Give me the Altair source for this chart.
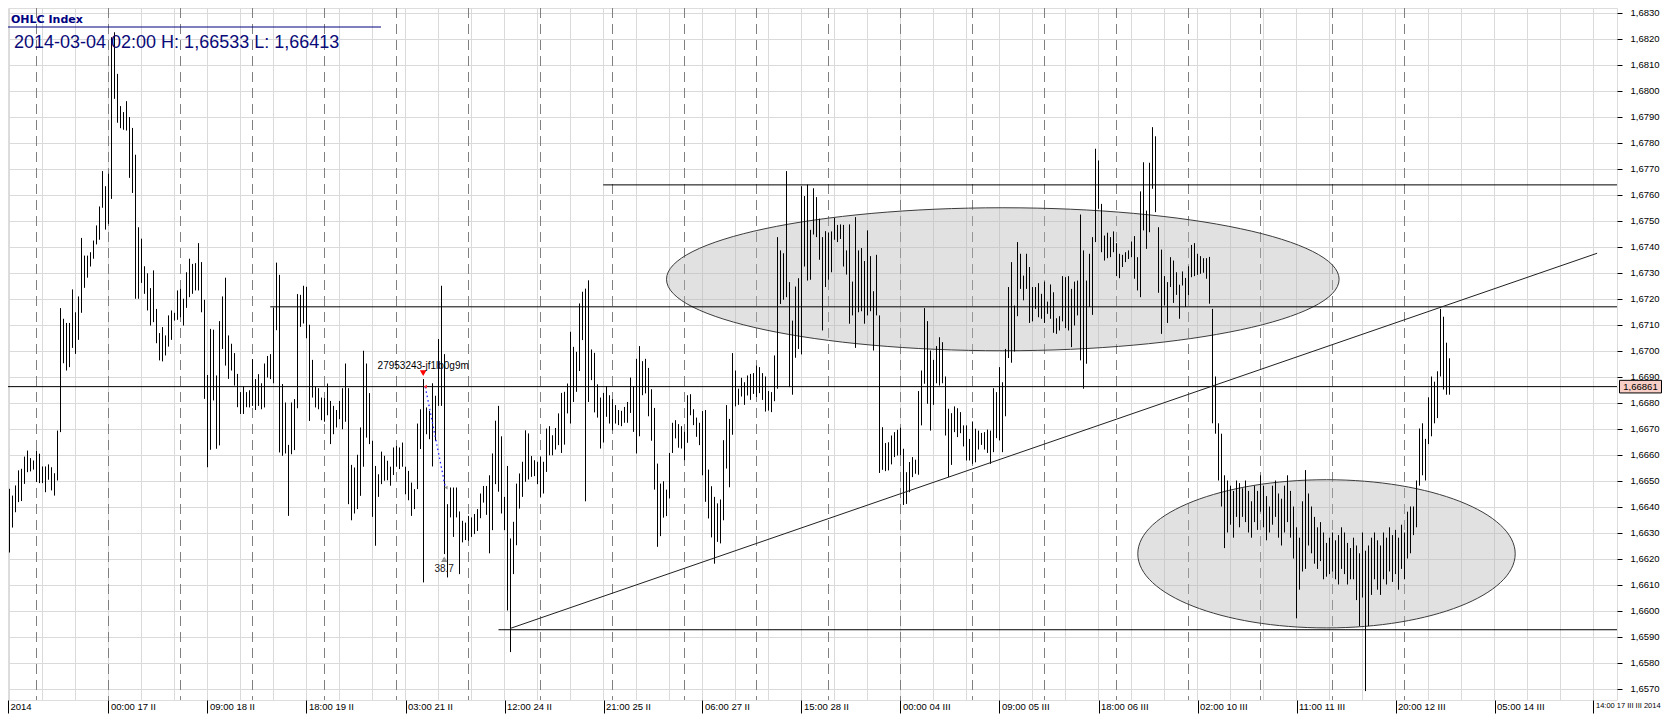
import json
import altair as alt
import pandas as pd

# ---------------- data ----------------
highs = [
    1.66468, 1.66442, 1.66481, 1.66539, 1.66545, 1.66592, 1.66615, 1.66586, 1.66577, 1.66615,
    1.66603, 1.66554, 1.66554, 1.66562, 1.66551, 1.66528, 1.66692, 1.67163, 1.67122, 1.67106,
    1.67106, 1.67235, 1.67147, 1.67208, 1.67433, 1.67365, 1.67365, 1.67378, 1.67423, 1.67481,
    1.67554, 1.67690, 1.67632, 1.67680, 1.68205, 1.68224, 1.68064, 1.67940, 1.67917, 1.67959,
    1.67898, 1.67856, 1.67753, 1.67474, 1.67430, 1.67324, 1.67297, 1.67240, 1.67308, 1.67160,
    1.67067, 1.67090, 1.67058, 1.67135, 1.67154, 1.67145, 1.67231, 1.67237, 1.67199, 1.67301,
    1.67353, 1.67333, 1.67336, 1.67413, 1.67340, 1.67195, 1.66906, 1.67083, 1.67080, 1.66904,
    1.67113, 1.67208, 1.67280, 1.67058, 1.67026, 1.66990, 1.66910, 1.66840, 1.66862, 1.66840,
    1.66847, 1.66967, 1.66890, 1.66909, 1.66874, 1.66950, 1.66979, 1.66986, 1.67165, 1.67338,
    1.67291, 1.66871, 1.66800, 1.66637, 1.66800, 1.66813, 1.67217, 1.67214, 1.67249, 1.67245,
    1.67099, 1.66964, 1.66860, 1.66855, 1.66819, 1.66817, 1.66873, 1.66806, 1.66787, 1.66771,
    1.66806, 1.66855, 1.66950, 1.66855, 1.66560, 1.66550, 1.66599, 1.66704, 1.66999, 1.66950,
    1.66836, 1.66653, 1.66556, 1.66524, 1.66611, 1.66595, 1.66576, 1.66553, 1.66627, 1.66633,
    1.66627, 1.66646, 1.66553, 1.66537, 1.66492, 1.66467, 1.66719, 1.66774, 1.66890, 1.66781,
    1.66768, 1.66874, 1.66826, 1.67044, 1.67249, 1.66986, 1.66409, 1.66473, 1.66473, 1.66473,
    1.66381, 1.66345, 1.66338, 1.66364, 1.66358, 1.66371, 1.66390, 1.66450, 1.66479, 1.66479,
    1.66520, 1.66604, 1.66730, 1.66787, 1.66670, 1.66437, 1.66556, 1.66277, 1.66341, 1.66488,
    1.66527, 1.66572, 1.66693, 1.66681, 1.66594, 1.66578, 1.66572, 1.66591, 1.66572, 1.66700,
    1.66709, 1.66674, 1.66702, 1.66758, 1.66837, 1.66841, 1.66873, 1.67072, 1.67014, 1.66995,
    1.67181, 1.67226, 1.67238, 1.67270, 1.67004, 1.66991, 1.66870, 1.66819, 1.66837, 1.66863,
    1.66828, 1.66813, 1.66790, 1.66771, 1.66768, 1.66783, 1.66802, 1.66896, 1.66863, 1.66968,
    1.67017, 1.66959, 1.66968, 1.66933, 1.66851, 1.66779, 1.66565, 1.66488, 1.66497, 1.66465,
    1.66606, 1.66722, 1.66732, 1.66717, 1.66709, 1.66687, 1.66828, 1.66832, 1.66774, 1.66742,
    1.66722, 1.66767, 1.66771, 1.66542, 1.66478, 1.66437, 1.66412, 1.66427, 1.66655, 1.66790,
    1.66737, 1.66990, 1.66923, 1.66853, 1.66895, 1.66878, 1.66904, 1.66910, 1.66913, 1.66942,
    1.66936, 1.66913, 1.66900, 1.66844, 1.66840, 1.66981, 1.67436, 1.67385, 1.67374, 1.67690,
    1.67263, 1.67115, 1.67246, 1.67278, 1.67632, 1.67594, 1.67638, 1.67464, 1.67624, 1.67590,
    1.67507, 1.67436, 1.67459, 1.67453, 1.67458, 1.67510, 1.67483, 1.67485, 1.67483, 1.67385,
    1.67485, 1.67265, 1.67513, 1.67385, 1.67394, 1.67344, 1.67462, 1.67363, 1.67228, 1.67368,
    1.67135, 1.66705, 1.66644, 1.66647, 1.66673, 1.66686, 1.66695, 1.66703, 1.66622, 1.66532,
    1.66571, 1.66590, 1.66580, 1.66844, 1.66923, 1.67163, 1.67113, 1.67000, 1.66964, 1.67017,
    1.67051, 1.67032, 1.66900, 1.66776, 1.66759, 1.66785, 1.66778, 1.66763, 1.66712, 1.66712,
    1.66660, 1.66727, 1.66699, 1.66692, 1.66683, 1.66686, 1.66696, 1.66692, 1.66855, 1.66840,
    1.66936, 1.66878, 1.67006, 1.67244, 1.67340, 1.67173, 1.67417, 1.67372, 1.67288, 1.67372,
    1.67321, 1.67244, 1.67244, 1.67259, 1.67218, 1.67265, 1.67188, 1.67254, 1.67224, 1.67124,
    1.67132, 1.67286, 1.67282, 1.67286, 1.67237, 1.67265, 1.67269, 1.67523, 1.67385, 1.67269,
    1.67372, 1.67436, 1.67776, 1.67731, 1.67564, 1.67442, 1.67453, 1.67436, 1.67458, 1.67413,
    1.67372, 1.67368, 1.67378, 1.67385, 1.67419, 1.67440, 1.67359, 1.67612, 1.67724, 1.67538,
    1.67722, 1.67859, 1.67824, 1.67474, 1.67388, 1.67286, 1.67263, 1.67359, 1.67346, 1.67301,
    1.67253, 1.67304, 1.67279, 1.67324, 1.67406, 1.67413, 1.67372, 1.67363, 1.67355, 1.67355,
    1.67360, 1.67160, 1.66900, 1.66720, 1.66680, 1.66520, 1.66500, 1.66480, 1.66460, 1.66500,
    1.66490, 1.66470, 1.66500, 1.66460, 1.66420, 1.66480, 1.66460, 1.66520, 1.66480, 1.66440,
    1.66400, 1.66480, 1.66500, 1.66450, 1.66430, 1.66480, 1.66520, 1.66460, 1.66400, 1.66320,
    1.66280, 1.66420, 1.66540, 1.66450, 1.66400, 1.66360, 1.66320, 1.66340, 1.66300, 1.66260,
    1.66280, 1.66300, 1.66270, 1.66290, 1.66320, 1.66300, 1.66260, 1.66240, 1.66280, 1.66250,
    1.66220, 1.66300, 1.66230, 1.66250, 1.66280, 1.66300, 1.66270, 1.66250, 1.66300, 1.66280,
    1.66320, 1.66290, 1.66310, 1.66280, 1.66330, 1.66300, 1.66380, 1.66400, 1.66400, 1.66500,
    1.66700, 1.66720, 1.66660, 1.66820, 1.66900, 1.66880, 1.66920, 1.67160, 1.67130, 1.67030,
    1.66970,
]
lows = [
    1.66223, 1.66319, 1.66378, 1.66417, 1.66421, 1.66487, 1.66532, 1.66535, 1.66542, 1.66494,
    1.66490, 1.66490, 1.66455, 1.66503, 1.66462, 1.66442, 1.66500, 1.66686, 1.66951, 1.66923,
    1.66936, 1.67010, 1.66987, 1.67041, 1.67145, 1.67241, 1.67280, 1.67323, 1.67353, 1.67408,
    1.67426, 1.67549, 1.67465, 1.67487, 1.67583, 1.67968, 1.67876, 1.67855, 1.67849, 1.67846,
    1.67664, 1.67606, 1.67199, 1.67199, 1.67260, 1.67218, 1.67154, 1.67096, 1.67109, 1.67028,
    1.66962, 1.66958, 1.66981, 1.67015, 1.67041, 1.67115, 1.67118, 1.67128, 1.67096, 1.67164,
    1.67205, 1.67218, 1.67231, 1.67231, 1.67147, 1.66814, 1.66551, 1.66618, 1.66808, 1.66622,
    1.66635, 1.67006, 1.66942, 1.66891, 1.66923, 1.66865, 1.66782, 1.66756, 1.66756, 1.66782,
    1.66781, 1.66787, 1.66771, 1.66787, 1.66774, 1.66781, 1.66896, 1.66890, 1.66874, 1.67078,
    1.66608, 1.66595, 1.66604, 1.66364, 1.66601, 1.66617, 1.66778, 1.67091, 1.67104, 1.67047,
    1.66729, 1.66819, 1.66781, 1.66774, 1.66732, 1.66726, 1.66751, 1.66640, 1.66678, 1.66704,
    1.66736, 1.66697, 1.66726, 1.66409, 1.66347, 1.66373, 1.66390, 1.66441, 1.66553, 1.66665,
    1.66640, 1.66360, 1.66249, 1.66437, 1.66486, 1.66499, 1.66501, 1.66480, 1.66521, 1.66553,
    1.66544, 1.66553, 1.66447, 1.66424, 1.66364, 1.66390, 1.66467, 1.66621, 1.66108, 1.66678,
    1.66659, 1.66554, 1.66653, 1.66787, 1.66787, 1.66217, 1.66127, 1.66358, 1.66283, 1.66358,
    1.66140, 1.66262, 1.66271, 1.66268, 1.66283, 1.66294, 1.66306, 1.66355, 1.66415, 1.66368,
    1.66220, 1.66309, 1.66486, 1.66457, 1.66373, 1.66309, 1.66000, 1.65840, 1.66140, 1.66251,
    1.66392, 1.66437, 1.66495, 1.66504, 1.66514, 1.66517, 1.66486, 1.66437, 1.66450, 1.66533,
    1.66597, 1.66597, 1.66619, 1.66636, 1.66606, 1.66638, 1.66758, 1.66719, 1.66802, 1.66841,
    1.66921, 1.67040, 1.66420, 1.66802, 1.66886, 1.66762, 1.66742, 1.66623, 1.66646, 1.66745,
    1.66719, 1.66693, 1.66719, 1.66713, 1.66709, 1.66722, 1.66722, 1.66760, 1.66687, 1.66604,
    1.66670, 1.66828, 1.66835, 1.66747, 1.66653, 1.66465, 1.66245, 1.66286, 1.66357, 1.66363,
    1.66431, 1.66606, 1.66662, 1.66626, 1.66623, 1.66578, 1.66645, 1.66751, 1.66713, 1.66668,
    1.66636, 1.66520, 1.66418, 1.66354, 1.66281, 1.66180, 1.66264, 1.66258, 1.66347, 1.66546,
    1.66474, 1.66676, 1.66785, 1.66791, 1.66823, 1.66791, 1.66827, 1.66810, 1.66833, 1.66821,
    1.66836, 1.66810, 1.66765, 1.66769, 1.66763, 1.66805, 1.66853, 1.67179, 1.67195, 1.67205,
    1.66859, 1.66830, 1.66972, 1.67006, 1.66985, 1.67323, 1.67269, 1.67272, 1.67446, 1.67436,
    1.67349, 1.67077, 1.67244, 1.67272, 1.67301, 1.67426, 1.67417, 1.67429, 1.67323, 1.67292,
    1.67103, 1.67135, 1.67010, 1.67147, 1.67151, 1.67103, 1.67135, 1.67151, 1.67000, 1.67135,
    1.66529, 1.66541, 1.66536, 1.66539, 1.66562, 1.66590, 1.66596, 1.66596, 1.66406, 1.66410,
    1.66455, 1.66513, 1.66526, 1.66522, 1.66712, 1.66872, 1.66795, 1.66692, 1.66791, 1.66874,
    1.66865, 1.66874, 1.66673, 1.66513, 1.66560, 1.66686, 1.66667, 1.66682, 1.66631, 1.66577,
    1.66577, 1.66564, 1.66570, 1.66619, 1.66637, 1.66619, 1.66606, 1.66564, 1.66609, 1.66663,
    1.66654, 1.66609, 1.66747, 1.66971, 1.66953, 1.66996, 1.67132, 1.67237, 1.67193, 1.67237,
    1.67106, 1.67112, 1.67160, 1.67128, 1.67122, 1.67106, 1.67141, 1.67122, 1.67068, 1.67064,
    1.67077, 1.67112, 1.67086, 1.67077, 1.67013, 1.67096, 1.67135, 1.66962, 1.66853, 1.66949,
    1.67167, 1.67137, 1.67417, 1.67545, 1.67378, 1.67346, 1.67355, 1.67359, 1.67378, 1.67286,
    1.67278, 1.67321, 1.67340, 1.67352, 1.67359, 1.67276, 1.67231, 1.67205, 1.67462, 1.67391,
    1.67455, 1.67622, 1.67532, 1.67222, 1.67064, 1.67173, 1.67106, 1.67244, 1.67183, 1.67214,
    1.67122, 1.67250, 1.67167, 1.67212, 1.67282, 1.67286, 1.67291, 1.67295, 1.67299, 1.67276,
    1.67180, 1.66720, 1.66680, 1.66500, 1.66400, 1.66240, 1.66300, 1.66330, 1.66280, 1.66360,
    1.66320, 1.66360, 1.66340, 1.66300, 1.66280, 1.66340, 1.66310, 1.66380, 1.66320, 1.66270,
    1.66300, 1.66330, 1.66360, 1.66280, 1.66250, 1.66300, 1.66340, 1.66280, 1.66200, 1.65970,
    1.66080, 1.66150, 1.66160, 1.66250, 1.66220, 1.66180, 1.66160, 1.66190, 1.66120, 1.66130,
    1.66140, 1.66150, 1.66120, 1.66100, 1.66160, 1.66140, 1.66100, 1.66120, 1.66120, 1.66040,
    1.65940, 1.66050, 1.65690, 1.65940, 1.66060, 1.66120, 1.66080, 1.66060, 1.66120, 1.66100,
    1.66150, 1.66110, 1.66140, 1.66080, 1.66160, 1.66120, 1.66200, 1.66220, 1.66290, 1.66320,
    1.66480, 1.66520, 1.66500, 1.66640, 1.66670, 1.66720, 1.66740, 1.66900, 1.66850, 1.66830,
    1.66830,
]

# x axis labels (hourly bars, one label every 33 bars)
x_tick_bars = [-0.5, 33, 66, 99, 132, 165, 198, 231, 264, 297, 330, 363, 396, 429, 462, 495, 528]
x_tick_labels = ["2014", "00:00 17 II", "09:00 18 II", "18:00 19 II", "03:00 21 II",
                 "12:00 24 II", "21:00 25 II", "06:00 27 II", "15:00 28 II", "00:00 04 III",
                 "09:00 05 III", "18:00 06 III", "02:00 10 III", "11:00 11 III", "20:00 12 III",
                 "05:00 14 III", "14:00 17 III III 2014"]
y_ticks = [round(1.656 + 0.001 * k, 4) for k in range(28)]
grid_bars = list(range(0, 536, 11))          # light vertical grid
day_bars = [9 + 24 * k for k in range(20)]   # midnights (dashed)

# drawn objects
hline_start = [-0.5, 86.9, 197.9, 163.0]
hline_price = [1.66861, 1.67168, 1.67637, 1.65926]
trend_bars = [166.9, 529.2]
trend_prices = [1.65931, 1.67374]
ell_center_bar = [331.1, 439.0]
ell_center_price = [1.67274, 1.66218]
ell_rx_bars = [112.1, 62.9]
ell_ry_price = [0.00275, 0.00285]
last_price = 1.66861
order_label = "27953243-jf1lb0g9m"

title1 = "OHLC Index"
title2 = "2014-03-04 02:00 H: 1,66533 L: 1,66413"

# ---------------- chart ----------------
W, H = 1609, 692
PX_BAR = 3.0            # pixels per hourly bar
PX_PRICE = 26000.0      # pixels per 1.0 of price
X0 = -0.5
X1 = X0 + W / PX_BAR
Y1 = 1.683 + 4.5 / PX_PRICE
Y0 = Y1 - H / PX_PRICE

FONT = "'Liberation Sans Narrow', 'Liberation Sans', Arial, sans-serif"
GRID = "#dadada"
xs = alt.Scale(domain=[X0, X1], nice=False, zero=False)
ys = alt.Scale(domain=[Y0, Y1], nice=False, zero=False)

label_expr = json.dumps(x_tick_labels) + "[round(datum.value / 33)]"
X_AX = alt.Axis(
    values=x_tick_bars, labelExpr=label_expr, orient="bottom", grid=False,
    tickSize=13, tickColor="black", tickWidth=1, domain=False,
    labelAlign="left", labelBaseline="top", labelPadding=-12, labelOffset=2,
    labelFont=FONT,
    labelFontSize={"condition": {"test": "datum.value > 520", "value": 7.5}, "value": 9.5},
    labelColor="black",
    labelOverlap=False, labelFlush=False, title=None)
Y_AX = alt.Axis(
    values=y_ticks, orient="right", grid=True, gridColor=GRID,
    labelExpr="replace(format(datum.value, '.4f'), '.', ',')",
    tickSize=5, tickColor="black", domain=False, labelPadding=8,
    labelFont=FONT, labelFontSize=9.5, labelColor="black",
    labelOverlap=False, labelFlush=False, labelBaseline="middle", title=None)


def X(f):
    return alt.X(f, scale=xs, axis=X_AX, title=None)


def Y(f):
    return alt.Y(f, scale=ys, axis=Y_AX, title=None)


bars = pd.DataFrame({"i": list(range(len(highs))), "high": highs, "low": lows})

base_axes = alt.Chart(pd.DataFrame({"i": [X0], "p": [Y0]})).mark_point(opacity=0).encode(
    x=X("i:Q"), y=Y("p:Q"))

xgrid = alt.Chart(pd.DataFrame({"g": grid_bars})).mark_rule(color=GRID, strokeWidth=1).encode(
    x=X("g:Q"))

dashes = alt.Chart(pd.DataFrame({"d": day_bars})).mark_rule(
    color="#808080", strokeDash=[10, 6], strokeWidth=1).encode(x=X("d:Q"))

ellipses = []
for cb, cp, rxb, ryp in zip(ell_center_bar, ell_center_price, ell_rx_bars, ell_ry_price):
    wpx = 2 * rxb * PX_BAR
    hpx = 2 * ryp * PX_PRICE
    r = hpx / wpx
    path = f"M -1 0 A 1 {r:.4f} 0 1 1 1 0 A 1 {r:.4f} 0 1 1 -1 0 Z"
    ellipses.append(
        alt.Chart(pd.DataFrame({"i": [cb], "p": [cp]})).mark_point(
            shape=path, size=wpx * wpx, filled=True, fill="#b4b4b4", fillOpacity=0.4,
            stroke="#3c3c3c", strokeWidth=1, opacity=1).encode(x=X("i:Q"), y=Y("p:Q")))

hl = pd.DataFrame({"s": hline_start, "e": [X1] * len(hline_start), "p": hline_price})
hlines = alt.Chart(hl).mark_rule(color="black", strokeWidth=1).encode(
    x=X("s:Q"), x2="e:Q", y=Y("p:Q"))

ohlc = alt.Chart(bars).mark_rule(color="black", strokeWidth=1).encode(
    x=X("i:Q"), y=Y("high:Q"), y2="low:Q")

trend = alt.Chart(pd.DataFrame({"a": [trend_bars[0]], "b": [trend_bars[1]],
                                "pa": [trend_prices[0]], "pb": [trend_prices[1]]})).mark_rule(
    color="#202020", strokeWidth=1).encode(x=X("a:Q"), x2="b:Q", y=Y("pa:Q"), y2="pb:Q")

# order marker annotation
ord_text = alt.Chart(pd.DataFrame({"i": [137.9], "p": [1.66941], "t": [order_label]})).mark_text(
    font="Liberation Sans", fontSize=10, color="black", baseline="middle").encode(
    x=X("i:Q"), y=Y("p:Q"), text="t:N")
ord_tri = alt.Chart(pd.DataFrame({"i": [137.9], "p": [1.66913]})).mark_point(
    shape="triangle-down", size=45, filled=True, color="#ff0000", opacity=1).encode(
    x=X("i:Q"), y=Y("p:Q"))
ord_start = alt.Chart(pd.DataFrame({"i": [138.6], "p": [1.66861]})).mark_point(
    shape="triangle-left", size=14, filled=True, color="#ff3030", opacity=1).encode(
    x=X("i:Q"), y=Y("p:Q"))
ord_line = alt.Chart(pd.DataFrame({"a": [138.6], "b": [145.3], "pa": [1.66860], "pb": [1.66473]})).mark_rule(
    color="#2020ff", strokeWidth=1.3, strokeDash=[1.5, 3]).encode(
    x=X("a:Q"), x2="b:Q", y=Y("pa:Q"), y2="pb:Q")
ord_end = alt.Chart(pd.DataFrame({"i": [145.5], "p": [1.66473]})).mark_point(
    shape="triangle-left", size=14, filled=True, color="#909090", opacity=1).encode(
    x=X("i:Q"), y=Y("p:Q"))
ord_up = alt.Chart(pd.DataFrame({"i": [144.9], "p": [1.66197]})).mark_point(
    shape="triangle-up", size=40, filled=True, color="#909090", opacity=1).encode(
    x=X("i:Q"), y=Y("p:Q"))
ord_val = alt.Chart(pd.DataFrame({"i": [144.9], "p": [1.66180], "t": ["38.7"]})).mark_text(
    font="Liberation Sans", fontSize=10, color="#202020", baseline="top").encode(
    x=X("i:Q"), y=Y("p:Q"), text="t:N")

# last price tag on the right axis
tag_path = "M -1 -0.3 L 1 -0.3 L 1 0.3 L -1 0.3 Z"
tag_box = alt.Chart(pd.DataFrame({"p": [last_price]})).mark_point(
    shape=tag_path, size=42 * 42, filled=True, fill="#f8cfc6", stroke="black", strokeWidth=1,
    opacity=1).encode(x=alt.value(W + 23.5), y=Y("p:Q"))
tag_text = alt.Chart(pd.DataFrame({"p": [last_price],
                                   "t": [f"{last_price:.5f}".replace('.', ',')]})).mark_text(
    font=FONT, fontSize=9.5, color="black", baseline="middle").encode(
    x=alt.value(W + 23.5), y=Y("p:Q"), text="t:N")

# header texts
hdr1 = alt.Chart(pd.DataFrame({"t": [title1]})).mark_text(
    font="DejaVu Sans", fontSize=11, fontWeight="bold", color="#000080", align="left",
    baseline="alphabetic").encode(x=alt.value(3), y=alt.value(15), text="t:N")
hdr_line = alt.Chart(pd.DataFrame({"t": [title1]})).mark_rule(color="#000080", strokeWidth=1).encode(
    x=alt.value(0), x2=alt.value(373), y=alt.value(19))
hdr2 = alt.Chart(pd.DataFrame({"t": [title2]})).mark_text(
    font="Liberation Sans", fontSize=18, color="#0a0a78", align="left",
    baseline="alphabetic").encode(x=alt.value(6), y=alt.value(40), text="t:N")

chart = alt.layer(
    base_axes, xgrid, dashes, *ellipses, hlines, ohlc, trend,
    ord_line, ord_start, ord_end, ord_tri, ord_text, ord_up, ord_val,
    tag_box, tag_text, hdr_line, hdr1, hdr2,
).properties(
    width=W, height=H,
    autosize=alt.AutoSizeParams(type="none"),
    padding={"left": 0, "top": 0, "right": 46, "bottom": 14},
).configure_view(
    stroke="black", strokeWidth=1, fill="white").configure(background="white")

chart.save("out.html", embed_options={"renderer": "svg", "actions": False})
